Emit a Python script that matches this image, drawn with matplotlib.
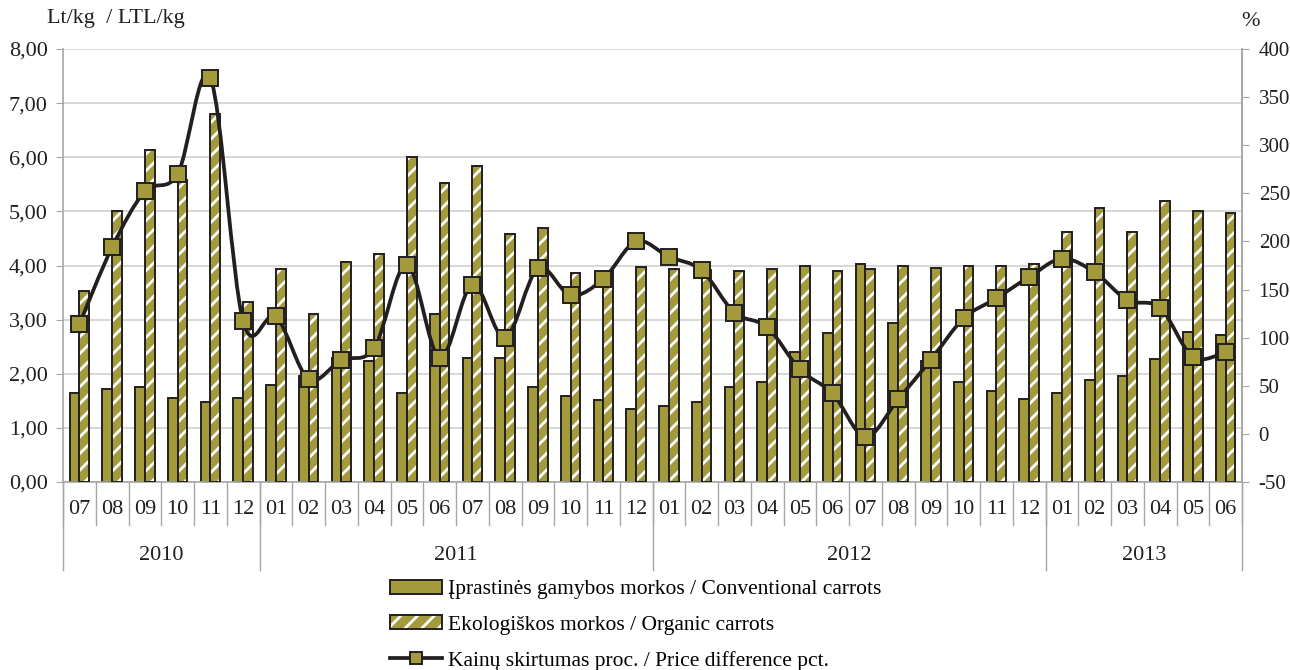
import matplotlib
matplotlib.use("Agg")
import matplotlib.pyplot as plt
import numpy as np
from matplotlib.path import Path
from matplotlib.patches import PathPatch, Patch
from matplotlib.lines import Line2D
from matplotlib.ticker import FuncFormatter, MultipleLocator
from matplotlib.legend_handler import HandlerTuple
import matplotlib.transforms as mtransforms

plt.rcParams["font.family"] = ["Liberation Serif", "DejaVu Serif"]
plt.rcParams["hatch.linewidth"] = 2.0
plt.rcParams["axes.unicode_minus"] = False

months = ["07", "08", "09", "10", "11", "12",
          "01", "02", "03", "04", "05", "06", "07", "08", "09", "10", "11", "12",
          "01", "02", "03", "04", "05", "06", "07", "08", "09", "10", "11", "12",
          "01", "02", "03", "04", "05", "06"]
years = ["2010", "2011", "2012", "2013"]
months_per_year = [6, 12, 12, 6]

conventional = [1.65, 1.72, 1.76, 1.55, 1.47, 1.55,
                1.79, 1.96, 2.30, 2.24, 1.65, 3.10, 2.30, 2.30, 1.75, 1.58, 1.51, 1.34,
                1.40, 1.47, 1.75, 1.85, 2.40, 2.75, 4.03, 2.93, 2.24, 1.85, 1.69, 1.54,
                1.65, 1.89, 1.96, 2.27, 2.78, 2.72]
organic = [3.52, 5.00, 6.13, 5.58, 6.80, 3.33,
           3.93, 3.10, 4.06, 4.21, 6.01, 5.52, 5.83, 4.58, 4.69, 3.86, 3.89, 3.97,
           3.93, 3.92, 3.89, 3.93, 3.99, 3.90, 3.93, 3.99, 3.96, 3.99, 3.99, 4.03,
           4.62, 5.07, 4.62, 5.20, 5.00, 4.97]
price_diff = [114, 194, 252, 270, 370, 117,
              122, 57, 77, 89, 176, 79, 155, 100, 172, 144, 161, 200,
              184, 170, 126, 111, 67, 42, -3, 36, 77, 120, 141, 163,
              182, 168, 139, 131, 80, 85]

label_conv = "Įprastinės gamybos morkos / Conventional carrots"
label_org = "Ekologiškos morkos / Organic carrots"
label_diff = "Kainų skirtumas proc. / Price difference pct."

OLIVE = "#A39A3C"
DARK = "#231F20"
GRID = "#D4D4D4"
SPINE = "#A6A6A6"
FS = 16
FS_RIGHT = 15
FS_LEGEND = 15.5

fig = plt.figure(figsize=(12.9, 6.7), dpi=100)
ax = fig.add_axes([63 / 1290, 1 - 482 / 670, (1242 - 63) / 1290, 433 / 670])

x = np.arange(len(months))
w = 0.3

ax.bar(x - w / 2, conventional, width=w, color=OLIVE, edgecolor=DARK, linewidth=1.4, zorder=2)
ax.bar(x + w / 2, organic, width=w, color=OLIVE, edgecolor="white", hatch="//", linewidth=0, zorder=2)
ax.bar(x + w / 2, organic, width=w, fill=False, edgecolor=DARK, linewidth=1.4, zorder=3)

ax.set_xlim(-0.5, len(months) - 0.5)
ax.set_ylim(0, 8)
ax.yaxis.set_major_locator(MultipleLocator(1))
ax.yaxis.set_major_formatter(FuncFormatter(lambda v, p: f"{v:.2f}".replace(".", ",")))
ax.grid(axis="y", color=GRID, linewidth=1.3)
ax.set_axisbelow(True)
ax.set_xticks([])
ax.tick_params(axis="y", direction="out", length=5, color=SPINE, labelsize=FS,
               labelcolor=DARK, pad=6)
ax.spines["top"].set_visible(False)
for s in ["left", "bottom", "right"]:
    ax.spines[s].set_color(SPINE)
    ax.spines[s].set_linewidth(1.2)

# secondary axis for the percentage difference
ax2 = ax.twinx()
ax2.set_ylim(-50, 400)
ax2.yaxis.set_major_locator(MultipleLocator(50))
ax2.tick_params(axis="y", direction="out", length=5, color=SPINE, labelsize=FS_RIGHT,
                labelcolor=DARK, pad=7)
for s in ["top", "left", "bottom"]:
    ax2.spines[s].set_visible(False)
ax2.spines["right"].set_color(SPINE)
ax2.spines["right"].set_linewidth(1.2)

# smoothed line (Catmull-Rom style Bezier segments)
pts = np.column_stack([x, np.asarray(price_diff, dtype=float)])
n = len(pts)
verts = [tuple(pts[0])]
codes = [Path.MOVETO]
for i in range(n - 1):
    p0 = pts[i - 1] if i > 0 else pts[i]
    p1 = pts[i]
    p2 = pts[i + 1]
    p3 = pts[i + 2] if i + 2 < n else pts[i + 1]
    c1 = p1 + (p2 - p0) / 6.0
    c2 = p2 - (p3 - p1) / 6.0
    verts += [tuple(c1), tuple(c2), tuple(p2)]
    codes += [Path.CURVE4] * 3
ax2.add_patch(PathPatch(Path(verts, codes), fill=False, edgecolor=DARK, linewidth=2.7,
                        capstyle="round", joinstyle="round", zorder=4))
ax2.plot(x, price_diff, linestyle="none", marker="s", markersize=11,
         markerfacecolor=OLIVE, markeredgecolor=DARK, markeredgewidth=1.4, zorder=5)

# two-level category axis
trans = mtransforms.blended_transform_factory(ax.transData, ax.transAxes)
month_sep = -43 / 433
year_sep = -88 / 433
for i in range(len(months) + 1):
    ax.plot([i - 0.5, i - 0.5], [0, month_sep], transform=trans, color=SPINE,
            linewidth=1.0, clip_on=False)
for i, m in enumerate(months):
    ax.text(i, -28 / 433, m, transform=trans, ha="center", va="center",
            fontsize=FS, color=DARK)
bounds = [0]
for cnt in months_per_year:
    bounds.append(bounds[-1] + cnt)
for b in bounds:
    ax.plot([b - 0.5, b - 0.5], [0, year_sep], transform=trans, color=SPINE,
            linewidth=1.0, clip_on=False)
for yi, yr in enumerate(years):
    mid = (bounds[yi] + bounds[yi + 1] - 1) / 2
    ax.text(mid, -73 / 433, yr, transform=trans, ha="center", va="center",
            fontsize=FS, color=DARK)

fig.text(47 / 1290, 1 - 18 / 670, "Lt/kg  / LTL/kg", ha="left", va="center",
         fontsize=FS, color=DARK)
fig.text(1251 / 1290, 1 - 22 / 670, "%", ha="center", va="center",
         fontsize=FS, color=DARK)

h_conv = Patch(facecolor=OLIVE, edgecolor=DARK, linewidth=1.4)
h_org_fill = Patch(facecolor=OLIVE, edgecolor="white", hatch="//", linewidth=0)
h_org_edge = Patch(fill=False, edgecolor=DARK, linewidth=1.4)
h_line = Line2D([], [], color=DARK, linewidth=2.7, marker="s", markersize=9,
                markerfacecolor=OLIVE, markeredgecolor=DARK, markeredgewidth=1.4)
fig.legend([h_conv, (h_org_fill, h_org_edge), h_line], [label_conv, label_org, label_diff],
           handler_map={tuple: HandlerTuple(ndivide=1)},
           loc="upper left", bbox_to_anchor=(390 / 1290, 1 - 580 / 670),
           frameon=False, fontsize=FS_LEGEND, borderpad=0, borderaxespad=0,
           handlelength=2.42, handleheight=0.6, handletextpad=0.28, labelspacing=0.74)

fig.savefig("out.png", dpi=100)
